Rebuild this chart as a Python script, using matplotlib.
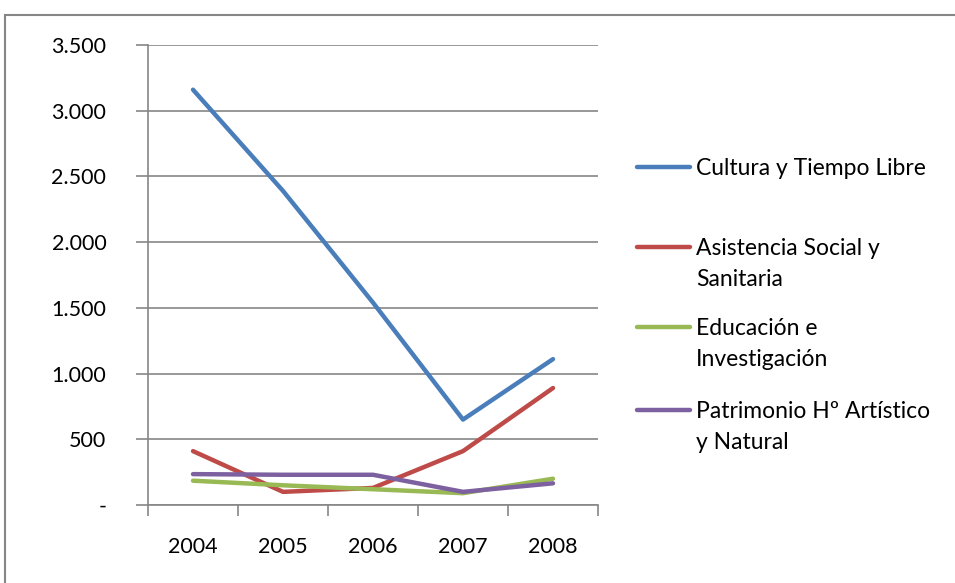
import matplotlib
matplotlib.use("Agg")
import matplotlib.pyplot as plt
from matplotlib.lines import Line2D
from matplotlib.patches import Rectangle
from matplotlib.ticker import FuncFormatter

plt.rcParams['font.family'] = ['Lato', 'DejaVu Sans']

years = ["2004", "2005", "2006", "2007", "2008"]
series_names = ["Cultura y Tiempo Libre", "Asistencia Social y\nSanitaria",
                "Educación e\nInvestigación", "Patrimonio Hº Artístico\ny Natural"]
cultura = [3160, 2390, 1540, 650, 1110]
asistencia = [410, 100, 130, 410, 890]
educacion = [185, 150, 120, 90, 200]
patrimonio = [235, 230, 230, 100, 165]
colors = ["#4A7EBB", "#BE4B48", "#98B954", "#7D60A0"]
yticks = [0, 500, 1000, 1500, 2000, 2500, 3000, 3500]

W, H = 955, 583
fig = plt.figure(figsize=(W / 100, H / 100), dpi=100)
ax = fig.add_axes([148 / W, 1 - 505 / H, 450 / W, 460 / H])

x = list(range(len(years)))
all_series = [cultura, asistencia, educacion, patrimonio]
for vals, c in zip(all_series, colors):
    ax.plot(x, vals, color=c, lw=3.2, solid_capstyle='round', solid_joinstyle='round', zorder=3)

ax.set_xlim(-0.5, len(years) - 0.5)
ax.set_ylim(0, 3500)
ax.set_yticks(yticks)
ax.yaxis.set_major_formatter(FuncFormatter(lambda v, p: "-" if v == 0 else f"{int(v):,}".replace(",", ".")))
ax.set_xticks(x)
ax.set_xticklabels(years)
ax.set_xticks([i - 0.5 for i in range(len(years) + 1)], minor=True)
ax.tick_params(axis='x', which='major', length=0, pad=23, labelsize=15.5)
ax.tick_params(axis='x', which='minor', length=8, width=1.2, color='#868686', direction='out')
ax.tick_params(axis='y', length=9, width=1.2, color='#868686', pad=21, labelsize=15.5)
ax.grid(axis='y', color='#868686', lw=1.2, zorder=0)
for s in ['top', 'right']:
    ax.spines[s].set_visible(False)
for s in ['left', 'bottom']:
    ax.spines[s].set_color('#868686')
    ax.spines[s].set_linewidth(1.2)

# legend drawn manually
leg_y = [167, 247, 327, 410]
for name, c, yy in zip(series_names, colors, leg_y):
    fig.add_artist(Line2D([637 / W, 690 / W], [1 - yy / H, 1 - yy / H], color=c, lw=3.2,
                          solid_capstyle='round'))
    fig.text(696 / W, 1 - (yy - 9) / H, name, fontsize=16.5, va='top', ha='left', linespacing=1.6)

# outer frame
fig.add_artist(Rectangle((5 / W, -0.1), 1.2, 1 - 15 / H + 0.1, transform=fig.transFigure,
                         fill=False, edgecolor='#868686', lw=1.5))

fig.savefig("out.png", dpi=100)
